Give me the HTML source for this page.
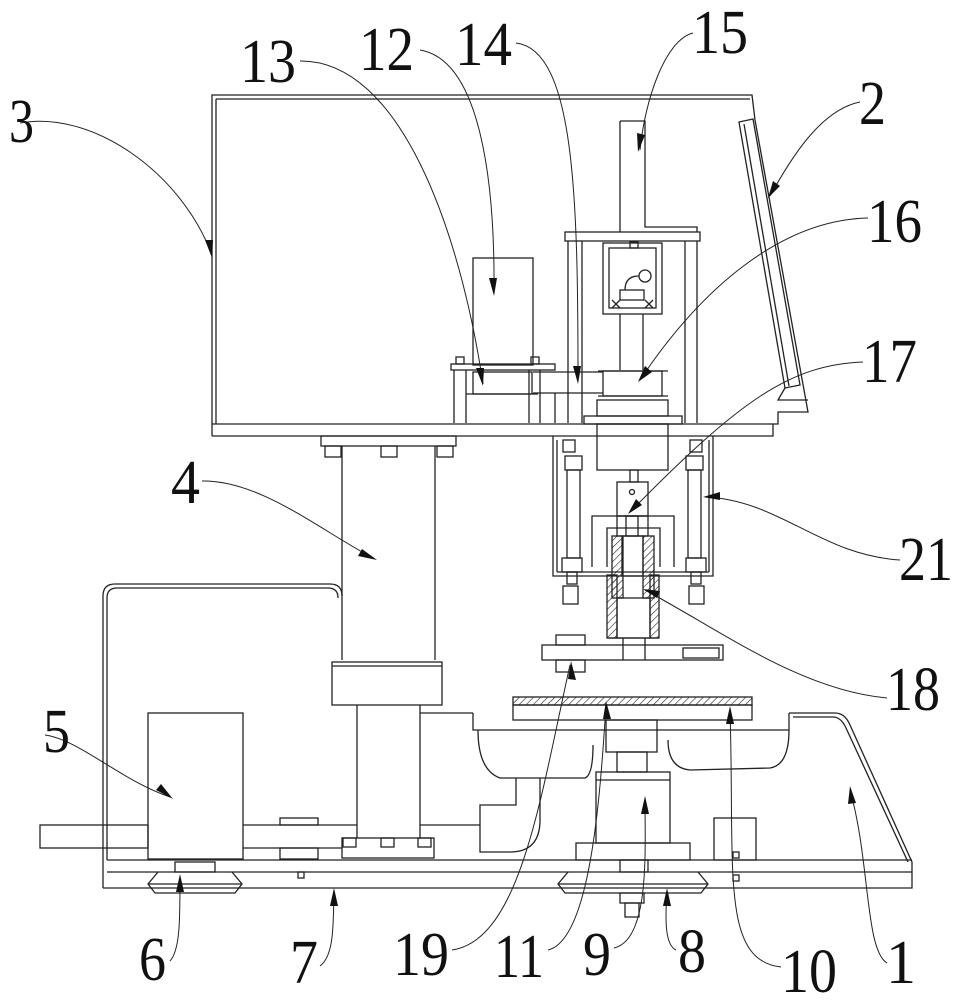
<!DOCTYPE html>
<html><head><meta charset="utf-8"><style>
html,body{margin:0;padding:0;background:#fff;}
svg{display:block;}
text{font-family:"Liberation Serif",serif;font-size:62px;fill:#111;}
</style></head><body>
<svg width="958" height="1000" viewBox="0 0 958 1000" xmlns="http://www.w3.org/2000/svg">
<defs>
<pattern id="h" width="5" height="5" patternUnits="userSpaceOnUse" patternTransform="rotate(45)"><line x1="0" y1="0" x2="0" y2="5" stroke="#222" stroke-width="1.2"/></pattern>
</defs>
<g fill="none" stroke="#222" stroke-width="1.3">
<!-- top box -->
<path d="M212 436 V95 H752 L755 120 L808 412 H778 V424 H773 V436 H212"/>
<line x1="216" y1="99" x2="216" y2="424"/>
<line x1="216" y1="99" x2="750" y2="99"/>
<line x1="212" y1="424" x2="773" y2="424"/>
<path d="M739 122 L753 119 L800 385 L785 388 Z"/>
<line x1="744" y1="124" x2="789" y2="386"/>
<path d="M785 388 L778 400 H808"/>
<!-- 15 -->
<path d="M620 121 H645 V227 H697 V232"/>
<line x1="620" y1="121" x2="620" y2="232"/>
<rect x="565" y="232" width="135" height="9"/>
<line x1="568" y1="241" x2="568" y2="423"/><line x1="582" y1="241" x2="582" y2="423"/>
<line x1="685" y1="241" x2="685" y2="423"/><line x1="697" y1="241" x2="697" y2="423"/>
<rect x="603" y="243" width="59" height="71"/>
<rect x="609" y="248" width="47" height="60"/>
<rect x="630" y="242" width="8" height="6"/>
<path d="M612 300 l8 8 m0 -8 l-8 8 M645 300 l8 8 m0 -8 l-8 8"/>
<circle cx="645" cy="276" r="6"/><path d="M625 290 q0 -14 14 -14"/>
<rect x="620" y="290" width="24" height="10"/>
<line x1="620" y1="314" x2="620" y2="370"/><line x1="643" y1="314" x2="643" y2="370"/>
<!-- pulley 16 -->
<rect x="603" y="371" width="59" height="25"/>
<line x1="598" y1="371" x2="668" y2="371"/><line x1="598" y1="396" x2="668" y2="396"/>
<!-- belt 14 -->
<line x1="533" y1="372" x2="603" y2="372"/><line x1="533" y1="393" x2="603" y2="393"/>
<!-- motor 12 -->
<rect x="473" y="258" width="60" height="107"/>
<rect x="451" y="364" width="104" height="6"/>
<rect x="456" y="357" width="8" height="7"/><rect x="531" y="357" width="8" height="7"/>
<rect x="473" y="372" width="59" height="22"/>
<line x1="466" y1="394" x2="538" y2="394"/>
<line x1="454" y1="370" x2="454" y2="423"/><line x1="466" y1="370" x2="466" y2="423"/>
<line x1="529" y1="370" x2="529" y2="423"/><line x1="540" y1="370" x2="540" y2="423"/>
<line x1="555" y1="393" x2="555" y2="423"/>
<rect x="597" y="400" width="71" height="16"/>
<rect x="584" y="416" width="98" height="8"/>
<!-- center block -->
<rect x="597" y="424" width="71" height="46"/>
<!-- housing 21 -->
<path d="M553 436 V576 H713 V436"/>
<line x1="557" y1="440" x2="557" y2="572"/><line x1="709" y1="440" x2="709" y2="572"/>
<line x1="557" y1="572" x2="709" y2="572"/>
<rect x="563" y="440" width="12" height="12"/><rect x="690" y="440" width="12" height="12"/>
<rect x="565" y="456" width="17" height="14"/><rect x="686" y="456" width="17" height="14"/>
<rect x="567" y="470" width="13" height="88"/><rect x="688" y="470" width="13" height="88"/>
<rect x="562" y="558" width="20" height="14"/><rect x="686" y="558" width="20" height="14"/>
<rect x="567" y="572" width="10" height="12"/><rect x="691" y="572" width="10" height="12"/>
<rect x="563" y="586" width="15" height="18"/><rect x="689" y="586" width="15" height="18"/>
<!-- 17 -->
<rect x="630" y="470" width="8" height="12"/>
<rect x="617" y="482" width="31" height="34"/>
<circle cx="632" cy="492" r="2.5"/>
<path d="M592 567 V516 H674 V567"/>
<path d="M607 567 V528 H660 V567"/>
<rect x="617" y="516" width="31" height="20"/>
<rect x="626" y="516" width="12" height="20"/>
<!-- 18 hatched -->
<rect x="612" y="536" width="11" height="62" fill="url(#h)"/>
<rect x="643" y="536" width="11" height="62" fill="url(#h)"/>
<rect x="607" y="575" width="10" height="63" fill="url(#h)"/>
<rect x="650" y="575" width="9" height="63" fill="url(#h)"/>
<rect x="622" y="536" width="21" height="40"/>
<rect x="617" y="598" width="33" height="40"/>
<line x1="607" y1="638" x2="659" y2="638"/>
<!-- head plate -->
<rect x="542" y="645" width="181" height="15"/>
<rect x="556" y="635" width="29" height="10"/><rect x="556" y="660" width="29" height="12"/>
<rect x="683" y="648" width="36" height="10"/>
<line x1="623" y1="638" x2="623" y2="660"/><line x1="645" y1="638" x2="645" y2="660"/>
<!-- column 4 -->
<rect x="321" y="436" width="135" height="10"/>
<rect x="325" y="446" width="16" height="11"/><rect x="381" y="446" width="16" height="11"/><rect x="437" y="446" width="16" height="11"/>
<line x1="342" y1="446" x2="342" y2="660"/><line x1="435" y1="446" x2="435" y2="660"/>
<rect x="332" y="662" width="110" height="43"/>
<line x1="332" y1="666" x2="442" y2="666"/>
<line x1="357" y1="705" x2="357" y2="838"/><line x1="420" y1="705" x2="420" y2="838"/>
<rect x="342" y="838" width="92" height="20"/>
<rect x="343" y="838" width="13" height="9"/><rect x="381" y="838" width="13" height="9"/><rect x="418" y="838" width="13" height="9"/>
<!-- frame -->
<path d="M103 888 V596 Q103 584 115 584 H330 Q342 584 342 596"/>
<path d="M107 860 V598 Q107 588 117 588 H328 Q338 588 338 598"/>
<line x1="420" y1="713" x2="473" y2="713"/>
<path d="M789 713 H835 Q845 713 850 725 L912 862 V888 H103"/>
<path d="M793 717 H833 Q841 717 846 728 L908 862"/>
<line x1="107" y1="860" x2="912" y2="860"/>
<line x1="107" y1="872" x2="912" y2="872"/>
<!-- motor 5 -->
<rect x="148" y="713" width="95" height="146"/>
<rect x="40" y="825" width="108" height="23"/>
<line x1="243" y1="825" x2="357" y2="825"/><line x1="243" y1="848" x2="342" y2="848"/>
<rect x="280" y="818" width="38" height="7"/>
<rect x="280" y="848" width="38" height="11"/>
<line x1="420" y1="825" x2="480" y2="825"/>
<!-- pulley 6 -->
<rect x="175" y="862" width="40" height="10"/>
<path d="M158 872 L148 884 L155 893 H235 L242 884 L232 872"/>
<line x1="148" y1="884" x2="242" y2="884"/>
<!-- table 10 / 11 -->
<rect x="513" y="697" width="239" height="8" fill="url(#h)"/>
<rect x="513" y="705" width="239" height="15"/>
<path d="M473 713 V730 H789 V713"/>
<path d="M478 730 Q478 770 500 778 H585 Q593 775 593 745"/>
<path d="M668 740 Q668 768 690 770 L770 768 Q789 765 789 730"/>
<rect x="606" y="720" width="51" height="32"/>
<rect x="617" y="752" width="30" height="20"/>
<rect x="596" y="772" width="74" height="71"/>
<line x1="596" y1="780" x2="670" y2="780"/>
<rect x="576" y="843" width="114" height="17"/>
<rect x="620" y="860" width="28" height="12"/>
<!-- pipe elbow -->
<path d="M516 778 V805 H480 V852 H510 Q540 852 540 820 V778"/>
<!-- pulley 8 -->
<path d="M568 872 L558 884 L565 893 H701 L708 884 L698 872"/>
<line x1="558" y1="884" x2="708" y2="884"/>
<rect x="620" y="893" width="24" height="10"/><rect x="625" y="903" width="14" height="14"/>
<rect x="714" y="818" width="42" height="42"/>
<rect x="733" y="852" width="6" height="6"/><rect x="733" y="875" width="6" height="6"/>
<rect x="298" y="872" width="6" height="6"/>
</g>
<!-- leaders -->
<g fill="none" stroke="#222" stroke-width="1">
<path d="M20 123 C90 110 180 170 212 255"/>
<path d="M300 61 C400 60 460 230 483 384"/>
<path d="M420 50 C480 60 495 180 494 292"/>
<path d="M516 43 C575 50 578 200 578 380"/>
<path d="M693 33 C665 40 645 100 640 150"/>
<path d="M860 102 C820 110 790 160 770 196"/>
<path d="M868 218 C780 220 700 290 640 380"/>
<path d="M863 362 C790 365 740 400 630 512"/>
<path d="M202 481 C260 480 320 530 373 558"/>
<path d="M900 560 C820 555 780 500 705 497"/>
<path d="M887 698 C800 690 720 630 645 590"/>
<path d="M45 735 C80 740 120 780 170 797"/>
<path d="M170 961 C180 950 180 920 180 878"/>
<path d="M320 966 C335 955 333 920 334 892"/>
<path d="M452 950 C520 940 540 800 570 665"/>
<path d="M548 950 C590 940 600 800 606 705"/>
<path d="M614 948 C650 940 645 850 645 800"/>
<path d="M676 950 C665 945 665 920 667 892"/>
<path d="M781 967 C720 960 735 870 730 710"/>
<path d="M887 963 C865 950 870 860 850 790"/>
</g>
<g fill="#111">
<polygon points="212,258 205,240 213,240"/>
<polygon points="483,386 476,368 484,368"/>
<polygon points="494,296 489,278 497,278"/>
<polygon points="578,384 573,366 581,366"/>
<polygon points="638,152 637,133 645,135"/>
<polygon points="768,198 773,181 780,186"/>
<polygon points="638,382 645,366 652,372"/>
<polygon points="628,514 636,499 642,505"/>
<polygon points="377,560 358,556 362,549"/>
<polygon points="703,497 720,492 720,500"/>
<polygon points="643,589 660,591 657,598"/>
<polygon points="173,799 156,790 161,784"/>
<polygon points="180,874 176,892 184,892"/>
<polygon points="334,888 330,906 338,906"/>
<polygon points="571,661 568,679 576,680"/>
<polygon points="606,701 603,719 611,719"/>
<polygon points="645,796 641,814 649,814"/>
<polygon points="667,888 663,906 671,906"/>
<polygon points="730,706 726,724 734,724"/>
<polygon points="850,786 848,804 856,803"/>
</g>
<g>
<text x="9" y="142" textLength="25" lengthAdjust="spacingAndGlyphs">3</text>
<text x="240" y="82" textLength="56" lengthAdjust="spacingAndGlyphs">13</text>
<text x="359" y="70" textLength="55" lengthAdjust="spacingAndGlyphs">12</text>
<text x="455" y="65" textLength="57" lengthAdjust="spacingAndGlyphs">14</text>
<text x="692" y="53" textLength="56" lengthAdjust="spacingAndGlyphs">15</text>
<text x="859" y="124" textLength="27" lengthAdjust="spacingAndGlyphs">2</text>
<text x="867" y="242" textLength="55" lengthAdjust="spacingAndGlyphs">16</text>
<text x="862" y="382" textLength="55" lengthAdjust="spacingAndGlyphs">17</text>
<text x="171" y="503" textLength="29" lengthAdjust="spacingAndGlyphs">4</text>
<text x="899" y="580" textLength="54" lengthAdjust="spacingAndGlyphs">21</text>
<text x="886" y="710" textLength="54" lengthAdjust="spacingAndGlyphs">18</text>
<text x="43" y="752" textLength="27" lengthAdjust="spacingAndGlyphs">5</text>
<text x="139" y="980" textLength="27" lengthAdjust="spacingAndGlyphs">6</text>
<text x="290" y="983" textLength="28" lengthAdjust="spacingAndGlyphs">7</text>
<text x="393" y="975" textLength="56" lengthAdjust="spacingAndGlyphs">19</text>
<text x="494" y="977" textLength="50" lengthAdjust="spacingAndGlyphs">11</text>
<text x="583" y="975" textLength="28" lengthAdjust="spacingAndGlyphs">9</text>
<text x="678" y="972" textLength="28" lengthAdjust="spacingAndGlyphs">8</text>
<text x="781" y="992" textLength="56" lengthAdjust="spacingAndGlyphs">10</text>
<text x="886" y="983" textLength="30" lengthAdjust="spacingAndGlyphs">1</text>
</g>
</svg>
</body></html>
